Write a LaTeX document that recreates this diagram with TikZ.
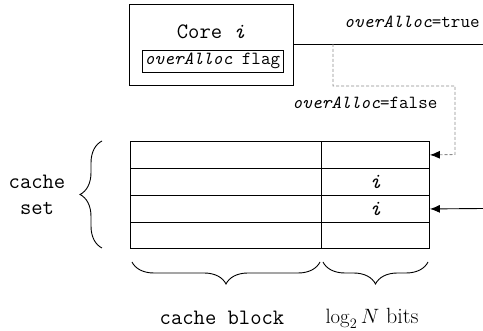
\documentclass[tikz,border=0pt]{standalone}
\usetikzlibrary{arrows.meta,decorations.pathreplacing}
\begin{document}
\begin{tikzpicture}[x=1pt,y=-1pt,
  big/.style={font=\ttfamily\fontsize{22}{26}\selectfont},
  small/.style={font=\ttfamily\fontsize{18.5}{22}\selectfont},
  box/.style={draw=black,line width=0.9pt,inner sep=0pt},
  cell/.style={draw=black,line width=0.9pt,inner sep=0pt,anchor=north west,minimum height=27pt},
  bcell/.style={cell,minimum width=191pt},
  tcell/.style={cell,minimum width=108pt},
  tip/.style={-{Latex[length=10pt,width=8pt,color=black]}},
  arr/.style={line width=0.9pt,tip},
  dsh/.style={draw=black!45,line width=0.9pt,dash pattern=on 3pt off 2pt},
  brc/.style={decorate,decoration={brace,amplitude=22pt},line width=0.9pt}]
\useasboundingbox (0,0) rectangle (483,331);
% core box
\node[box,minimum width=164pt,minimum height=81pt] (core) at (211,44.5) {};
\node[big,inner sep=0pt] (corelbl) at (211,32) {Core \textit{i}};
\node[box,minimum width=141pt,minimum height=22pt,small] (flag) at (212.5,61) {\textit{overAlloc} flag};
% table
\node[bcell] (b1) at (130,141) {};
\node[tcell] (t1) at (321,141) {};
\node[bcell] (b2) at (130,168) {};
\node[tcell,big] (t2) at (321,168) {\textit{i}};
\node[bcell] (b3) at (130,195) {};
\node[tcell,big] (t3) at (321,195) {\textit{i}};
\node[bcell,minimum height=26pt] (b4) at (130,222) {};
\node[tcell,minimum height=26pt] (t4) at (321,222) {};
% connectors
\coordinate (rtop) at (483,44);
\coordinate (split) at (333,44);
\coordinate (rin) at (483,208.5);
\draw[line width=0.9pt] (core.east |- rtop) -- (rtop);
\draw[dsh,tip] (split) -- (333,86) -- (455,86) -- (455,154.5) -- (t1.east);
\draw[arr] (rin) -- (t3.east);
\node[small,inner sep=0pt] (truelbl) at (412,22) {\textit{overAlloc}=true};
\node[small,inner sep=0pt] (falselbl) at (365,103) {\textit{overAlloc}=false};
% braces
\draw[brc] (102,248) -- (102,141);
\node[big,align=center,inner sep=0pt] (setlbl) at (37,195) {cache\\[0pt]set};
\draw[brc] (320,262) -- (132,262);
\draw[brc] (428,262) -- (323,262);
\node[big,inner sep=0pt] (blocklbl) at (222,318) {cache block};
\node[font=\fontsize{22}{26}\selectfont,inner sep=0pt] (bitslbl) at (372,318) {$\log_2 N$ bits};
\end{tikzpicture}
\end{document}
